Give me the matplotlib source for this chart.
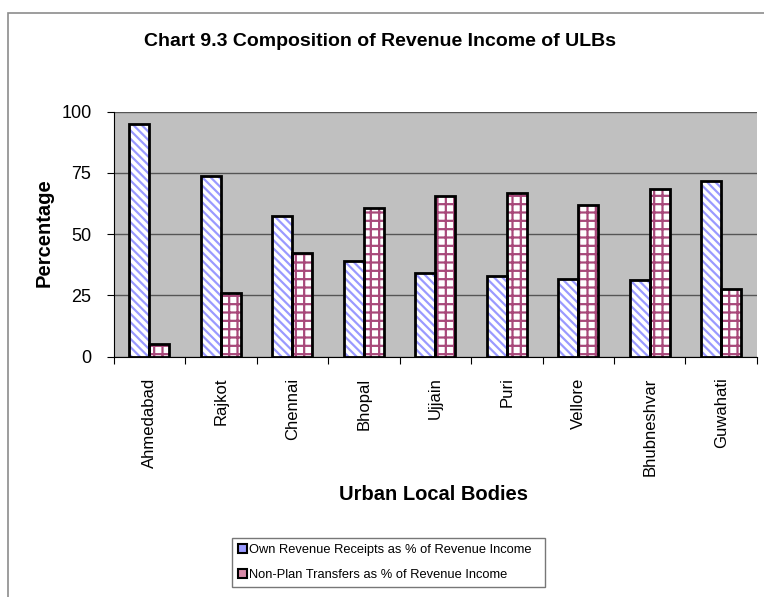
import numpy as np
import matplotlib
matplotlib.use("Agg")
import matplotlib.pyplot as plt
from matplotlib.patches import Patch, Rectangle

plt.rcParams['font.family'] = ['Liberation Sans', 'DejaVu Sans']
plt.rcParams['hatch.linewidth'] = 1.6

# data
bodies = ['Ahmedabad', 'Rajkot', 'Chennai', 'Bhopal', 'Ujjain', 'Puri',
          'Vellore', 'Bhubneshvar', 'Guwahati']
own_revenue = [95.1, 73.8, 57.5, 39.0, 34.0, 33.0, 31.8, 31.3, 71.8]
non_plan = [5.0, 26.0, 42.2, 60.7, 65.7, 66.8, 61.9, 68.3, 27.6]
yticks = [0, 25, 50, 75, 100]

fig = plt.figure(figsize=(7.64, 5.97), dpi=100)
# outer chart border
fig.patches.append(Rectangle((0.0105, -0.05), 1.2, 1.028, transform=fig.transFigure,
                             fill=False, edgecolor='#8c8c8c', linewidth=1.2))

ax = fig.add_axes([0.1488, 0.4025, 0.842, 0.4104])
ax.set_facecolor('#c0c0c0')

x = np.arange(len(bodies)) + 0.5
w = 0.28
# hatch layers, then black outlines on top
ax.bar(x - w / 2, own_revenue, w, color='white', edgecolor='#9a9aff', hatch='\\\\\\\\', linewidth=0, zorder=2)
ax.bar(x + w / 2, non_plan, w, color='white', edgecolor='#a8487a', hatch='++', linewidth=0, zorder=2)
ax.bar(x - w / 2, own_revenue, w, fill=False, edgecolor='black', linewidth=2, zorder=3)
ax.bar(x + w / 2, non_plan, w, fill=False, edgecolor='black', linewidth=2, zorder=3)

ax.set_xlim(0, len(bodies))
ax.set_ylim(0, 100)
ax.set_yticks(yticks)
ax.set_xticks(np.arange(len(bodies) + 1), minor=False)
ax.set_xticklabels([])
ax.set_xticks(x, minor=True)
ax.set_xticklabels(bodies, minor=True, rotation=90, fontsize=12)
ax.tick_params(axis='x', which='minor', length=0, pad=15)
ax.tick_params(axis='x', which='major', length=5, direction='out')
ax.tick_params(axis='y', length=5, direction='out', labelsize=13, pad=11)
ax.yaxis.grid(True, color='#555555', linewidth=1)
ax.set_axisbelow(True)
for s in ['top', 'right']:
    ax.spines[s].set_visible(False)
ax.spines['left'].set_color('black')
ax.spines['bottom'].set_color('black')

fig.text(0.497, 0.930, 'Chart 9.3 Composition of Revenue Income of ULBs',
         ha='center', va='center', fontsize=14, fontweight='bold')
fig.text(0.058, 0.611, 'Percentage', rotation=90, ha='center', va='center',
         fontsize=14.5, fontweight='bold')
fig.text(0.567, 0.171, 'Urban Local Bodies', ha='center', va='center',
         fontsize=14.5, fontweight='bold')

handles = [Patch(facecolor='#9a9aff', edgecolor='black', linewidth=1.5),
           Patch(facecolor='#d88aa8', edgecolor='black', linewidth=1.5)]
leg = fig.legend(handles, ['Own Revenue Receipts as % of Revenue Income',
                           'Non-Plan Transfers as % of Revenue Income'],
                 loc='lower left', bbox_to_anchor=(0.3037, 0.0168, 0.41, 0.099),
                 mode='expand', fontsize=9.3, frameon=True, fancybox=False,
                 handlelength=0.7, handleheight=0.7, handletextpad=0.2,
                 borderaxespad=0, labelspacing=1.0, borderpad=0.45)
leg.get_frame().set_edgecolor('#555555')
leg.get_frame().set_linewidth(1)

fig.savefig('out.png', dpi=100)
